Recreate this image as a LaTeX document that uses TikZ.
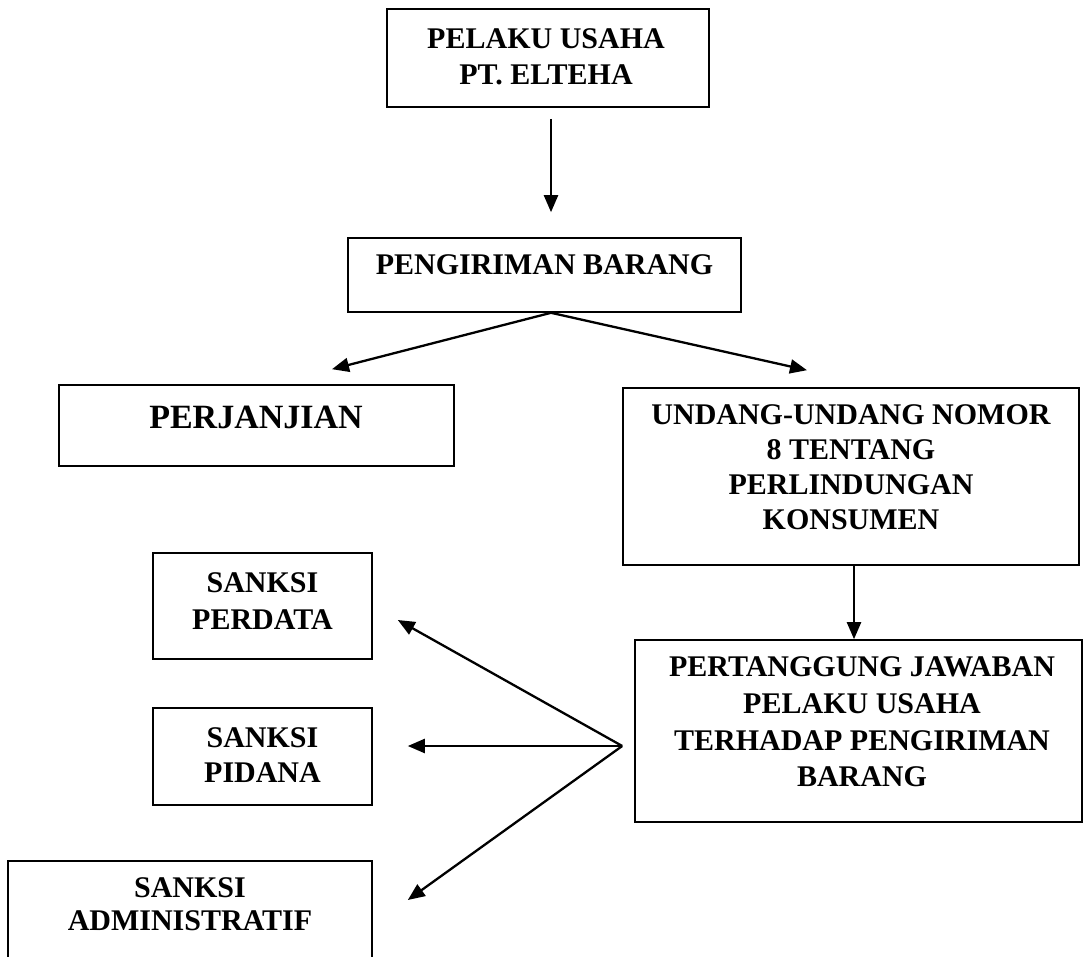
\documentclass[tikz,border=0pt]{standalone}
\usepackage{fontspec}
\setmainfont{Liberation Serif}
\usetikzlibrary{arrows.meta}
\begin{document}
\begin{tikzpicture}[x=1pt,y=-1pt,
  box/.style={draw=black,line width=1.6pt,rectangle,inner sep=0pt},
  lbl/.style={align=center,inner sep=0pt,font=\bfseries\fontsize{30}{36}\selectfont},
  arr/.style={line width=2.3pt,-{Triangle[length=17pt,width=14pt]}}]
\useasboundingbox[fill=white] (0,0) rectangle (1083,957);
% boxes
\node[box,minimum width=322pt,minimum height=98pt] (b1) at (548,58) {};
\node[box,minimum width=393pt,minimum height=74pt] (b2) at (544.5,275) {};
\node[box,minimum width=395pt,minimum height=81pt] (b3) at (256.5,425.5) {};
\node[box,minimum width=456pt,minimum height=177pt] (b4) at (851,476.5) {};
\node[box,minimum width=447pt,minimum height=182pt] (b5) at (858.5,731) {};
\node[box,minimum width=219pt,minimum height=106pt] (b6) at (262.5,606) {};
\node[box,minimum width=219pt,minimum height=97pt] (b7) at (262.5,756.5) {};
\node[box,minimum width=364pt,minimum height=97pt] (b8) at (190,909.5) {};
% texts
\node[lbl] (t1) at (546,56.5) {PELAKU USAHA\\PT. ELTEHA};
\node[lbl] (t2) at (544.5,265) {PENGIRIMAN BARANG};
\node[lbl,font=\bfseries\fontsize{34}{40}\selectfont] (t3) at (256,417.5) {PERJANJIAN};
\node[lbl,font=\bfseries\fontsize{30}{35}\selectfont] (t4) at (851,467) {UNDANG-UNDANG NOMOR\\8 TENTANG\\PERLINDUNGAN\\KONSUMEN};
\node[lbl,font=\bfseries\fontsize{30}{36.7}\selectfont] (t5) at (862,722) {PERTANGGUNG JAWABAN\\PELAKU USAHA\\TERHADAP PENGIRIMAN\\BARANG};
\node[lbl,font=\bfseries\fontsize{30}{36.5}\selectfont] (t6) at (262.5,601) {SANKSI\\PERDATA};
\node[lbl,font=\bfseries\fontsize{30}{35}\selectfont] (t7) at (262.5,755.5) {SANKSI\\PIDANA};
\node[lbl,font=\bfseries\fontsize{30}{33}\selectfont] (t8) at (190,904.5) {SANKSI\\ADMINISTRATIF};
% connectors
\draw[arr] ([xshift=3pt,yshift=-11pt]b1.south) -- ([xshift=6.5pt,yshift=25pt]b2.north);
\draw[arr] ([xshift=6.5pt]b2.south) -- ([xshift=75.5pt,yshift=15pt]b3.north);
\draw[arr] ([xshift=6.5pt]b2.south) -- ([xshift=-44pt,yshift=17pt]b4.north);
\draw[arr] ([xshift=3pt]b4.south) -- ([xshift=-4.5pt]b5.north);
\coordinate (j) at ([xshift=-12pt,yshift=-15pt]b5.west);
\draw[arr] (j) -- ([xshift=25pt,yshift=-14pt]b6.east);
\draw[arr] (j) -- ([xshift=35pt,yshift=10.5pt]b7.east);
\draw[arr] (j) -- ([xshift=35pt,yshift=9.5pt]b8.east);
\end{tikzpicture}
\end{document}
